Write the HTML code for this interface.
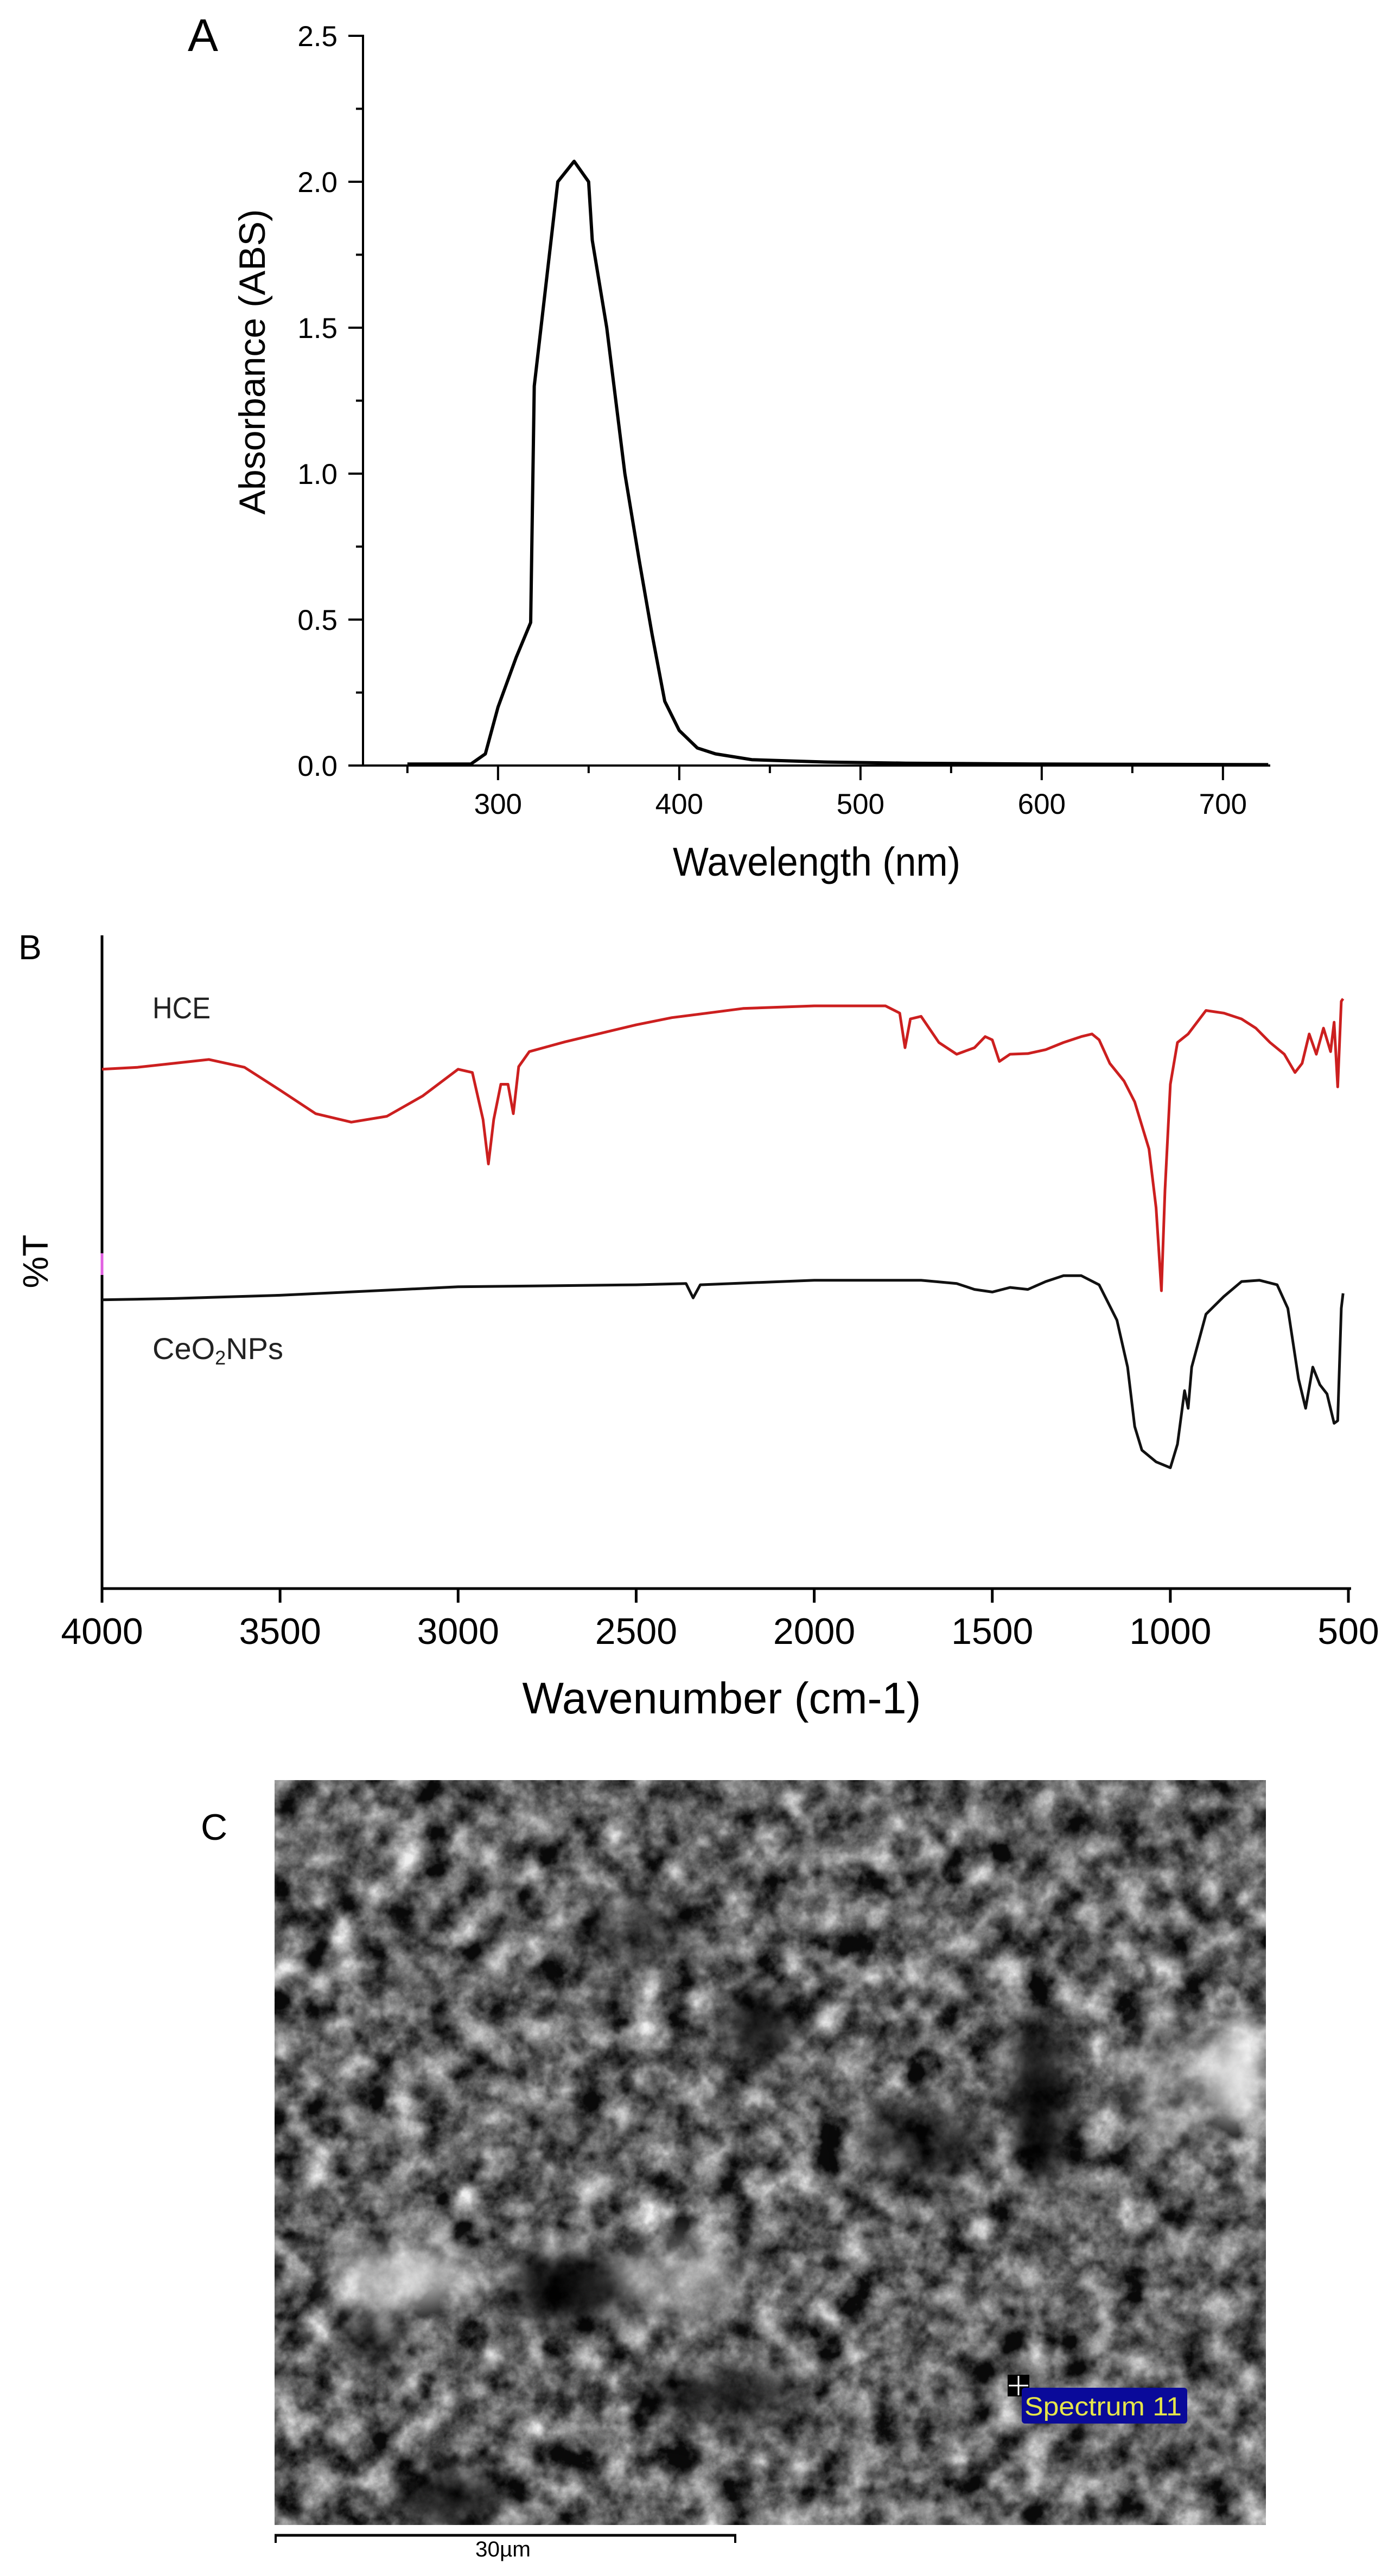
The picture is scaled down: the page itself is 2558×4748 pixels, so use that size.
<!DOCTYPE html>
<html><head><meta charset="utf-8"><style>
html,body{margin:0;padding:0;background:#fff}
svg{display:block}
text{font-family:"Liberation Sans",sans-serif}
</style></head><body>
<svg id="fig" width="2558" height="4748" viewBox="0 0 2558 4748" xmlns="http://www.w3.org/2000/svg">
<defs>
<filter id="sem" x="0" y="0" width="100%" height="100%" color-interpolation-filters="sRGB">
<feTurbulence type="fractalNoise" baseFrequency="0.018" numOctaves="5" seed="7" result="n"/>
<feColorMatrix type="matrix" values="0.33 0.33 0.33 0 0  0.33 0.33 0.33 0 0  0.33 0.33 0.33 0 0  0 0 0 0 1" result="g"/>
<feComponentTransfer><feFuncR type="linear" slope="2.6" intercept="-0.9"/><feFuncG type="linear" slope="2.6" intercept="-0.9"/><feFuncB type="linear" slope="2.6" intercept="-0.9"/></feComponentTransfer>
</filter>
<filter id="blur40" color-interpolation-filters="sRGB"><feGaussianBlur stdDeviation="30"/></filter>
<clipPath id="semclip"><rect x="506" y="3281" width="1827" height="1373"/></clipPath>
</defs>

<!-- Panel A -->
<g>
<text x="346" y="94" font-size="84">A</text>
<g id="aAxes" stroke="#000" stroke-width="4" fill="none">
<line x1="669" y1="64" x2="669" y2="1413"/>
<line x1="667" y1="1411" x2="2341" y2="1411"/>
</g>
<g id="aTicks"></g>
<text transform="translate(488,667) rotate(-90)" text-anchor="middle" font-size="68">Absorbance (ABS)</text>
<text x="1505" y="1614" text-anchor="middle" font-size="74" textLength="530" lengthAdjust="spacingAndGlyphs">Wavelength (nm)</text>
<path id="aLine" fill="none" stroke="#000" stroke-width="6" stroke-linejoin="round"/>
</g>

<!-- Panel B -->
<g>
<text x="34" y="1768" font-size="64">B</text>
<g stroke="#000" stroke-width="5" fill="none">
<line x1="188" y1="1724" x2="188" y2="2930"/>
<line x1="186" y1="2928" x2="2490" y2="2928"/>
</g>
<line x1="188" y1="2310" x2="188" y2="2350" stroke="#e060e0" stroke-width="5"/>
<g id="bTicks"></g>
<text transform="translate(88,2325) rotate(-90)" text-anchor="middle" font-size="66">%T</text>
<text x="1330" y="3158" text-anchor="middle" font-size="82" textLength="735" lengthAdjust="spacingAndGlyphs">Wavenumber (cm-1)</text>
<text x="281" y="1877" font-size="56" fill="#222" textLength="107" lengthAdjust="spacingAndGlyphs">HCE</text>
<text x="281" y="2505" font-size="56" fill="#222">CeO<tspan font-size="36" dy="10">2</tspan><tspan dy="-10">NPs</tspan></text>
<path id="hceLine" fill="none" stroke="#cc1f1f" stroke-width="5" stroke-linejoin="round"/>
<path id="ceoLine" fill="none" stroke="#111" stroke-width="5" stroke-linejoin="round"/>
</g>

<!-- Panel C -->
<g>
<text x="370" y="3391" font-size="68">C</text>
<g clip-path="url(#semclip)">
<rect x="506" y="3281" width="1827" height="1373" fill="#5e5e5e"/>
<rect x="506" y="3281" width="1827" height="1373" filter="url(#sem)" opacity="0.9"/>
<g filter="url(#blur40)">
<ellipse cx="1050" cy="4215" rx="120" ry="60" fill="#000" opacity="0.9"/>
<ellipse cx="1915" cy="3870" rx="50" ry="160" fill="#000" opacity="0.9"/>
<ellipse cx="1400" cy="3735" rx="60" ry="65" fill="#000" opacity="0.85"/>
<ellipse cx="685" cy="4315" rx="45" ry="45" fill="#000" opacity="0.85"/>
<ellipse cx="830" cy="4605" rx="100" ry="50" fill="#000" opacity="0.8"/>
<ellipse cx="1330" cy="4415" rx="150" ry="45" fill="#000" opacity="0.7"/>
<ellipse cx="1700" cy="3950" rx="110" ry="70" fill="#000" opacity="0.6"/>
<ellipse cx="1180" cy="3560" rx="120" ry="60" fill="#000" opacity="0.4"/>
<ellipse cx="2280" cy="3820" rx="55" ry="100" fill="#fff" opacity="0.85"/>
<ellipse cx="740" cy="4200" rx="130" ry="55" fill="#fff" opacity="0.7"/>
<ellipse cx="1250" cy="4200" rx="120" ry="80" fill="#ddd" opacity="0.45"/>
<ellipse cx="2150" cy="3850" rx="90" ry="120" fill="#ccc" opacity="0.35"/>
</g>
</g>
<line x1="506" y1="4673" x2="1357" y2="4673" stroke="#000" stroke-width="5"/>
<line x1="508" y1="4671" x2="508" y2="4687" stroke="#000" stroke-width="4"/>
<line x1="1355" y1="4671" x2="1355" y2="4687" stroke="#000" stroke-width="4"/>
<text x="927" y="4712" text-anchor="middle" font-size="40" textLength="102" lengthAdjust="spacingAndGlyphs">30µm</text>
<g>
<rect x="1857" y="4377" width="40" height="40" fill="#000"/>
<line x1="1877" y1="4379" x2="1877" y2="4415" stroke="#fff" stroke-width="3"/>
<line x1="1859" y1="4397" x2="1895" y2="4397" stroke="#fff" stroke-width="3"/>
<rect x="1883" y="4401" width="305" height="66" rx="6" fill="#0a0a9a"/>
<text x="1888" y="4452" font-size="48" fill="#e6e64a" textLength="290" lengthAdjust="spacingAndGlyphs">Spectrum 11</text>
</g>
</g>
</svg>
<script>
// Panel A data
const aWavelength = [250,285,293,300,310,318,320,333,342,350,352,360,370,378,385,392,400,410,420,440,480,525,600,725];
const aAbsorbance = [0.005,0.005,0.04,0.2,0.37,0.49,1.3,2.0,2.07,2.0,1.8,1.5,1.0,0.7,0.45,0.22,0.12,0.06,0.04,0.02,0.012,0.008,0.005,0.003];
const aYTicks = [0,0.5,1.0,1.5,2.0,2.5];
const aYTickLabels = ["0.0","0.5","1.0","1.5","2.0","2.5"];
const aXTicks = [300,400,500,600,700];
const aXTickLabels = ["300","400","500","600","700"];
// Panel B data
const bWavenumber = [4000,3900,3800,3700,3600,3500,3400,3300,3200,3100,3000,2960,2930,2915,2900,2880,2860,2845,2830,2800,2700,2500,2400,2300,2200,2000,1800,1760,1745,1730,1700,1650,1600,1550,1520,1500,1480,1450,1400,1350,1300,1250,1220,1200,1170,1130,1100,1060,1040,1025,1015,1000,980,950,900,850,800,760,720,680,650,630,610,590,570,550,540,530,520,515];
const bHCE = [79.5,79.8,80.4,81.0,79.8,76.3,72.7,71.4,72.3,75.4,79.5,79.0,71.8,65.0,71.8,77.2,77.2,72.7,79.9,82.2,83.7,86.3,87.4,88.1,88.8,89.2,89.2,88.1,82.8,87.2,87.6,83.6,81.8,82.8,84.5,84.0,80.7,81.8,81.9,82.5,83.6,84.5,84.9,84.0,80.4,77.7,74.5,67.3,58.3,45.6,61.0,77.2,83.6,84.9,88.5,88.1,87.2,85.8,83.6,81.8,79.0,80.4,84.9,81.8,85.8,82.2,86.7,76.8,89.9,90.3];
const bWavenumber2 = [4000,3800,3500,3000,2500,2360,2340,2320,2000,1700,1600,1550,1500,1450,1400,1350,1300,1250,1200,1150,1120,1100,1080,1040,1000,980,960,950,940,900,850,800,750,700,670,640,620,600,580,560,540,530,520,515];
const bCeO2 = [44.2,44.4,44.9,46.2,46.5,46.7,44.5,46.5,47.2,47.2,46.7,45.8,45.4,46.1,45.8,47.0,47.9,47.9,46.5,41.1,33.9,24.8,21.2,19.4,18.5,22.1,30.3,27.6,33.9,42.0,44.7,47.0,47.2,46.5,42.9,32.1,27.6,33.9,31.2,29.8,25.3,25.7,42.9,45.2];
const bXTicks = [4000,3500,3000,2500,2000,1500,1000,500];
const bXTickLabels = ["4000","3500","3000","2500","2000","1500","1000","500"];

const NS="http://www.w3.org/2000/svg";
const ax = w => 669 + (w-225.5)*3.34;
const ay = v => 1411 - v*538;
const bx = w => 188 + (4000-w)*(2485-188)/3500;
const by = v => 2928 - v*(2928-1724)/100;

function mk(tag, attrs, parent){const e=document.createElementNS(NS,tag);for(const k in attrs)e.setAttribute(k,attrs[k]);parent.appendChild(e);return e;}

const aT=document.getElementById('aTicks');
for(let v=0; v<=2.5001; v+=0.25){
  const major = Math.abs(v*2-Math.round(v*2))<1e-6;
  const t=mk('line',{x1:669-(major?27:13),x2:669,y1:ay(v),y2:ay(v),stroke:'#000','stroke-width':4},aT);
  
  
}
aYTicks.forEach((v,i)=>{
  const t=mk('text',{x:622,y:ay(v)+19,'text-anchor':'end','font-size':53},aT);
  t.textContent=aYTickLabels[i];
  
  
});
for(let w=250; w<=700; w+=50){
  const major = w%100===0;
  const t=mk('line',{x1:ax(w),x2:ax(w),y1:1411,y2:1411+(major?27:14),stroke:'#000','stroke-width':4},aT);
  
  
}
aXTicks.forEach((w,i)=>{
  const t=mk('text',{x:ax(w),y:1500,'text-anchor':'middle','font-size':53},aT);
  t.textContent=aXTickLabels[i];
  
  
});
document.getElementById('aLine').setAttribute('d', aWavelength.map((w,i)=>(i?'L':'M')+ax(w).toFixed(1)+','+ay(aAbsorbance[i]).toFixed(1)).join(''));

const bT=document.getElementById('bTicks');
bXTicks.forEach((w,i)=>{
  const t=mk('line',{x1:bx(w),x2:bx(w),y1:2928,y2:2954,stroke:'#000','stroke-width':5},bT);
  
  
  const l=mk('text',{x:bx(w),y:3030,'text-anchor':'middle','font-size':68},bT);
  l.textContent=bXTickLabels[i];
  
  
});
document.getElementById('hceLine').setAttribute('d', bWavenumber.map((w,i)=>(i?'L':'M')+bx(w).toFixed(1)+','+by(bHCE[i]).toFixed(1)).join(''));
document.getElementById('ceoLine').setAttribute('d', bWavenumber2.map((w,i)=>(i?'L':'M')+bx(w).toFixed(1)+','+by(bCeO2[i]).toFixed(1)).join(''));
</script>
</body></html>
